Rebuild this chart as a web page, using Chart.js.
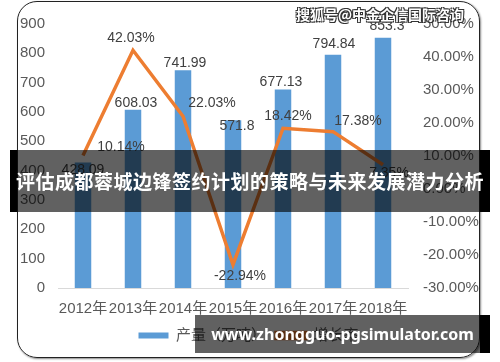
<!DOCTYPE html>
<html>
<head>
<meta charset="utf-8">
<script src="https://cdn.jsdelivr.net/npm/chart.js@4"></script>
<style>
  body { margin: 0; background: #fff; }
  #wrap { position: relative; width: 500px; height: 362px; overflow: hidden; }
  #myChart { position: absolute; left: 0; top: 0; }
  .frame { position: absolute; left: 17px; top: 1px; width: 461px; height: 355px;
           border: 1.5px solid #222; border-radius: 20px; box-shadow: 1px 1px 2px #888; }
  .band { position: absolute; background: rgba(0,0,0,0.62); color: #fff; font-weight: 700;
          white-space: nowrap; text-align: center; overflow: visible; }
  .blk { position: absolute; background: #000; }
  .title { left: 10px; top: 150px; width: 480px; height: 62px; line-height: 62px;
           font-size: 19px; letter-spacing: 0.5px; font-family: "Noto Sans CJK SC", sans-serif; }
  .site { left: 195px; top: 315px; width: 295px; height: 38px; line-height: 38px;
          font-size: 16px; font-family: "Noto Sans", sans-serif; }
  .mark { position: absolute; left: 296px; top: 4px; font-size: 14px; color: #fff; font-weight: 700;
          font-family: "Noto Sans CJK SC", sans-serif; white-space: nowrap;
          text-shadow: -1px -1px 0 #333, 1px -1px 0 #333, -1px 1px 0 #333, 1px 1px 0 #333; }
</style>
</head>
<body>
<div id="wrap">
  <canvas id="myChart" width="500" height="362"></canvas>
  <div class="frame"></div>
  <div class="blk" style="left:10px;top:150px;width:7px;height:62px"></div>
  <div class="blk" style="left:480px;top:150px;width:10px;height:62px"></div>
  <div class="blk" style="left:480px;top:315px;width:10px;height:38px"></div>
  <div class="band title">评估成都蓉城边锋签约计划的策略与未来发展潜力分析</div>
  <div class="band site">www.zhongguo-pgsimulator.com</div>
  <div class="mark">搜狐号@中金企信国际咨询</div>
</div>
<script>
// 연도 / 产量 / 增长率
const years = ['2012年', '2013年', '2014年', '2015年', '2016年', '2017年', '2018年'];
const output = [428.09, 608.03, 741.99, 571.8, 677.13, 794.84, 853.3];
const growth = [10.14, 42.03, 22.03, -22.94, 18.42, 17.38, 7.35];
const seriesNames = ['产量（万吨）', '增长率'];

// label offsets (px) relative to each mark, hand placed like in the original
const barOff = [[0, 8], [3, -7], [2, -7], [4, 6], [-2, -7], [1, -11], [4, -12]];
const lineOff = [[38, -8], [-2, -12], [29, -13], [7, 11], [5, -12], [25, -11], [6, 8]];

const FONT = '"Liberation Sans", "Noto Sans CJK SC", sans-serif';

const valueLabels = {
  id: 'valueLabels',
  afterDatasetsDraw(chart) {
    const ctx = chart.ctx;
    ctx.save();
    ctx.font = '14px ' + FONT;
    ctx.fillStyle = '#404040';
    ctx.textAlign = 'center';
    ctx.textBaseline = 'middle';
    chart.getDatasetMeta(0).data.forEach(function (bar, i) {
      ctx.fillText(String(output[i]), bar.x + barOff[i][0], bar.y + barOff[i][1]);
    });
    chart.getDatasetMeta(1).data.forEach(function (pt, i) {
      ctx.fillText(growth[i].toFixed(2) + '%', pt.x + lineOff[i][0], pt.y + lineOff[i][1]);
    });
    ctx.restore();
  }
};

const ctx = document.getElementById('myChart').getContext('2d');
const myChart = new Chart(ctx, {
  data: {
    labels: years,
    datasets: [{
      type: 'bar',
      label: seriesNames[0],
      data: output,
      yAxisID: 'y',
      backgroundColor: '#5B9BD5',
      barPercentage: 0.33,
      categoryPercentage: 1,
      order: 2
    }, {
      type: 'line',
      label: seriesNames[1],
      data: growth,
      yAxisID: 'y1',
      borderColor: '#ED7D31',
      backgroundColor: '#ED7D31',
      borderWidth: 3.5,
      pointRadius: 0,
      tension: 0,
      order: 1
    }]
  },
  options: {
    responsive: false,
    animation: false,
    layout: { padding: { left: 17, right: 20, top: 23, bottom: 9 } },
    plugins: {
      tooltip: { enabled: false },
      legend: {
        position: 'bottom',
        labels: {
          boxWidth: 30, boxHeight: 6, padding: 10, color: '#595959', font: { size: 15, family: FONT },
          sort: function (a, b) { return a.datasetIndex - b.datasetIndex; }
        }
      }
    },
    scales: {
      x: {
        grid: { display: false, drawTicks: false },
        border: { color: '#d9d9d9', width: 1 },
        ticks: { color: '#595959', font: { size: 15, family: FONT }, padding: 12, maxRotation: 0, autoSkip: false },
        afterFit: function (s) { s.height = 30; }
      },
      y: {
        position: 'left',
        min: 0,
        max: 900,
        grid: { display: false, drawTicks: false },
        border: { display: false },
        ticks: { stepSize: 100, color: '#595959', font: { size: 15, family: FONT }, padding: 13 },
        afterFit: function (s) { s.width = 41; }
      },
      y1: {
        position: 'right',
        min: -30,
        max: 50,
        grid: { display: false, drawTicks: false },
        border: { display: false },
        ticks: {
          stepSize: 10, color: '#595959', font: { size: 15, family: FONT }, padding: 15,
          callback: function (v) { return v.toFixed(2) + '%'; }
        },
        afterFit: function (s) { s.width = 72; }
      }
    }
  },
  plugins: [valueLabels]
});
</script>
</body>
</html>
